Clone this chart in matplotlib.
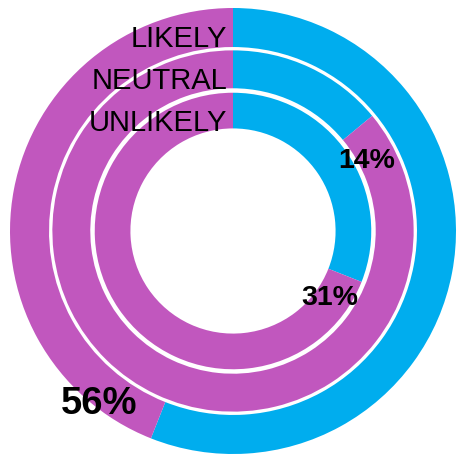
import matplotlib
matplotlib.use("Agg")
import matplotlib.pyplot as plt

# Share of responses per ring (percent): favourable share in blue, remainder in magenta
rings = ["LIKELY", "NEUTRAL", "UNLIKELY"]
blue_share = [56, 14, 31]
blue = "#00ADEE"
magenta = "#C157BE"

# ring geometry (outer radius, inner radius)
ring_radii = [(1.0, 0.825), (0.81, 0.64), (0.62, 0.46)]

fig = plt.figure(figsize=(4.58, 4.57), dpi=100)
ax = fig.add_axes([0, 0, 1, 1])

for share, (r_out, r_in) in zip(blue_share, ring_radii):
    ax.pie([share, 100 - share], colors=[blue, magenta], radius=r_out,
           startangle=90, counterclock=False,
           wedgeprops=dict(width=r_out - r_in, linewidth=0))

R = 223.0
cx, cy = 233.0, 231.0
ax.set_xlim(-cx / R, (458 - cx) / R)
ax.set_ylim(-(457 - cy) / R, cy / R)
ax.set_aspect("auto")
ax.axis("off")

font = "Liberation Sans"
# ring names, right-aligned just left of the top boundary
name_y = [0.860, 0.672, 0.485]
for name, y in zip(rings, name_y):
    ax.text(-0.025, y, name, ha="right", va="center", fontsize=21,
            family=font, color="black")

# value labels
label_pos = [(-0.60, -0.775, 27.5), (0.60, 0.315, 20.5), (0.435, -0.30, 20.5)]
for share, (x, y, fs) in zip(blue_share, label_pos):
    ax.text(x, y, f"{share}%", ha="center", va="center", fontsize=fs,
            family=font, fontweight="bold", color="black")

fig.savefig("out.png", dpi=100, facecolor="white")
